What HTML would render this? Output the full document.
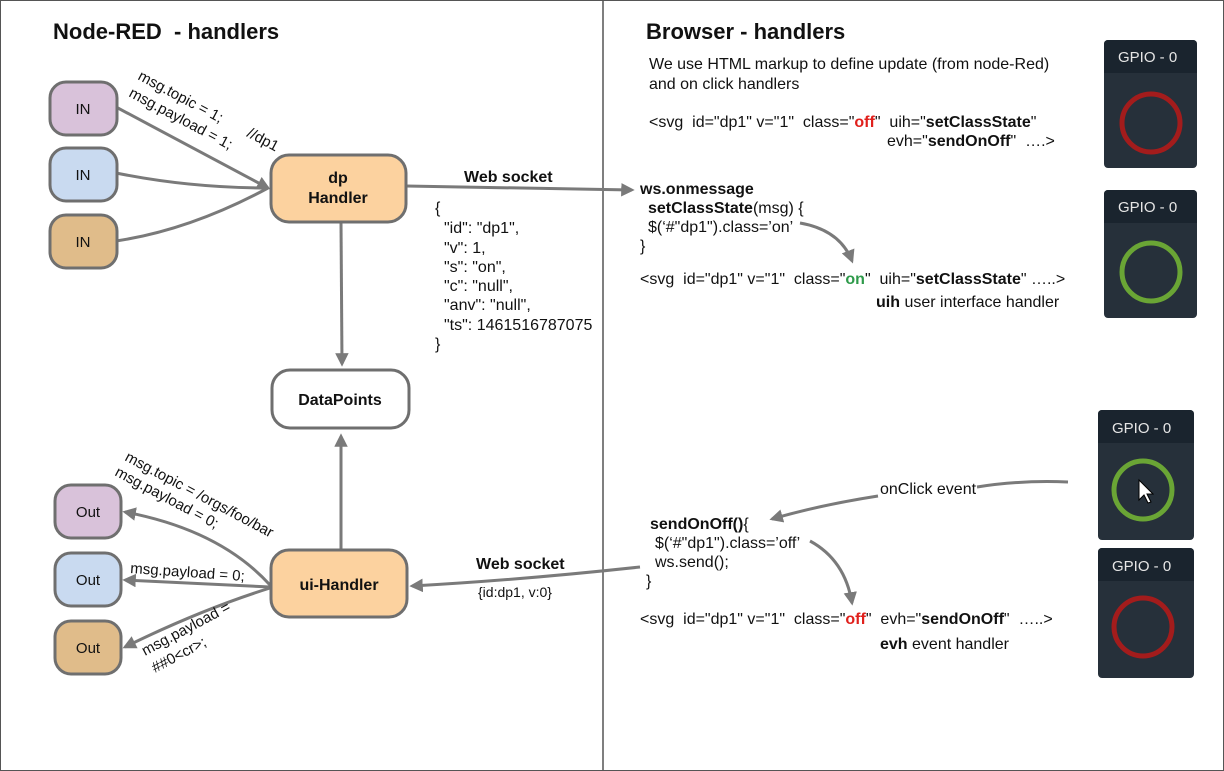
<!DOCTYPE html>
<html><head><style>body{margin:0;background:#fff}svg{display:block}text{font-family:"Liberation Sans",Arial,sans-serif;fill:#111;white-space:pre}</style></head>
<body>
<svg width="1224" height="771" viewBox="0 0 1224 771" xmlns="http://www.w3.org/2000/svg">
<defs>
<marker id="a" viewBox="0 0 10 10" refX="8" refY="5" markerWidth="4.5" markerHeight="4.5" orient="auto-start-reverse"><path d="M0,0 L10,5 L0,10 z" fill="#7a7a7a"/></marker>
</defs>
<rect x="0.5" y="0.5" width="1223" height="770" fill="#fff" stroke="#555"/>
<line x1="603" y1="0" x2="603" y2="771" stroke="#555" stroke-width="1.5"/>
<text x="53" y="39" font-size="22" font-weight="bold">Node-RED  - handlers</text>
<text x="646" y="39" font-size="22" font-weight="bold">Browser - handlers</text>

<g stroke="#7a7a7a" stroke-width="3" fill="none">
<path d="M116,107 L268,188" marker-end="url(#a)"/>
<path d="M116,173 Q190,188 268,188"/>
<path d="M116,241 Q190,230 268,188"/>
<path d="M406,186 L632,190" marker-end="url(#a)"/>
<path d="M341,222 L342,364" marker-end="url(#a)"/>
<path d="M341,550 L341,436" marker-end="url(#a)"/>
<path d="M270,585 Q220,530 125,512" marker-end="url(#a)"/>
<path d="M270,587 L125,580" marker-end="url(#a)"/>
<path d="M270,588 Q200,610 125,647" marker-end="url(#a)"/>
<path d="M640,567 Q520,580 412,586" marker-end="url(#a)"/>
<path d="M800,223 Q840,230 852,261" marker-end="url(#a)"/>
<path d="M810,541 Q845,560 852,603" marker-end="url(#a)"/>
<path d="M1068,482 Q1020,480 977,487"/>
<path d="M878,496 Q820,505 772,519" marker-end="url(#a)"/>
</g>

<g stroke="#6f6f6f" stroke-width="3">
<rect x="50" y="82" width="67" height="53" rx="16" fill="#d9c2da"/>
<rect x="50" y="148" width="67" height="53" rx="16" fill="#c9daf0"/>
<rect x="50" y="215" width="67" height="53" rx="16" fill="#e0bc8a"/>
<rect x="271" y="155" width="135" height="67" rx="18" fill="#fcd29f"/>
<rect x="272" y="370" width="137" height="58" rx="18" fill="#fff"/>
<rect x="271" y="550" width="136" height="67" rx="18" fill="#fcd29f"/>
<rect x="55" y="485" width="66" height="53" rx="16" fill="#d9c2da"/>
<rect x="55" y="553" width="66" height="53" rx="16" fill="#c9daf0"/>
<rect x="55" y="621" width="66" height="53" rx="16" fill="#e0bc8a"/>
</g>
<g font-size="15" text-anchor="middle">
<text x="83" y="114">IN</text><text x="83" y="180">IN</text><text x="83" y="247">IN</text>
<text x="88" y="517">Out</text><text x="88" y="585">Out</text><text x="88" y="653">Out</text>
<text x="338" y="183" font-weight="bold" font-size="16">dp</text><text x="338" y="203" font-weight="bold" font-size="16">Handler</text>
<text x="340" y="405" font-weight="bold" font-size="16">DataPoints</text>
<text x="339" y="590" font-weight="bold" font-size="16">ui-Handler</text>
</g>

<g font-size="16">
<text transform="translate(137,79) rotate(28)" font-size="15">msg.topic = 1;</text>
<text transform="translate(128,96) rotate(28)" font-size="15">msg.payload = 1;</text>
<text transform="translate(246,136) rotate(28)" font-size="15">//dp1</text>
<text transform="translate(124,460) rotate(28)" font-size="15">msg.topic = /orgs/foo/bar</text>
<text transform="translate(114,475) rotate(28)" font-size="15">msg.payload = 0;</text>
<text transform="translate(130,573) rotate(4)" font-size="15">msg.payload = 0;</text>
<text transform="translate(145,656) rotate(-28)" font-size="15">msg.payload =</text>
<text transform="translate(155,673) rotate(-28)" font-size="15">##0&lt;cr&gt;;</text>
<text x="464" y="182" font-weight="bold">Web socket</text>
<text x="476" y="569" font-weight="bold">Web socket</text>
<text x="478" y="597" font-size="14">{id:dp1, v:0}</text>
<text x="435" y="213">{</text>
<text x="444" y="233">"id": "dp1",</text>
<text x="444" y="253">"v": 1,</text>
<text x="444" y="272">"s": "on",</text>
<text x="444" y="291">"c": "null",</text>
<text x="444" y="310">"anv": "null",</text>
<text x="444" y="330">"ts": 1461516787075</text>
<text x="435" y="349">}</text>

<text x="649" y="69">We use HTML markup to define update (from node-Red)</text>
<text x="649" y="89">and on click handlers</text>
<text x="649" y="127">&lt;svg  id="dp1" v="1"  class="<tspan fill="#e0201c" font-weight="bold">off</tspan>"  uih="<tspan font-weight="bold">setClassState</tspan>"</text>
<text x="887" y="146">evh="<tspan font-weight="bold">sendOnOff</tspan>"  ….&gt;</text>
<text x="640" y="194" font-weight="bold">ws.onmessage</text>
<text x="648" y="213"><tspan font-weight="bold">setClassState</tspan>(msg) {</text>
<text x="648" y="232">$(‘#"dp1").class=’on’</text>
<text x="640" y="251">}</text>
<text x="640" y="284">&lt;svg  id="dp1" v="1"  class="<tspan fill="#2e9a4a" font-weight="bold">on</tspan>"  uih="<tspan font-weight="bold">setClassState</tspan>" …..&gt;</text>
<text x="876" y="307"><tspan font-weight="bold">uih</tspan> user interface handler</text>
<text x="880" y="494">onClick event</text>
<text x="650" y="529"><tspan font-weight="bold">sendOnOff()</tspan>{</text>
<text x="655" y="548">$(‘#"dp1").class=’off’</text>
<text x="655" y="567">ws.send();</text>
<text x="646" y="586">}</text>
<text x="640" y="624">&lt;svg  id="dp1" v="1"  class="<tspan fill="#e0201c" font-weight="bold">off</tspan>"  evh="<tspan font-weight="bold">sendOnOff</tspan>"  …..&gt;</text>
<text x="880" y="649"><tspan font-weight="bold">evh</tspan> event handler</text>
</g>

<g>
<rect x="1104" y="40" width="93" height="128" rx="4" fill="#26303a"/>
<path d="M1104,73 V44 a4,4 0 0 1 4,-4 H1193 a4,4 0 0 1 4,4 V73 z" fill="#1a242e"/>
<text x="1118" y="62" font-size="15" style="fill:#e6e6e6">GPIO - 0</text>
<circle cx="1151" cy="123" r="29" fill="none" stroke="#a31c1c" stroke-width="5"/>
<rect x="1104" y="190" width="93" height="128" rx="4" fill="#26303a"/>
<path d="M1104,223 V194 a4,4 0 0 1 4,-4 H1193 a4,4 0 0 1 4,4 V223 z" fill="#1a242e"/>
<text x="1118" y="212" font-size="15" style="fill:#e6e6e6">GPIO - 0</text>
<circle cx="1151" cy="272" r="29" fill="none" stroke="#6aa535" stroke-width="5"/>
<rect x="1098" y="410" width="96" height="130" rx="4" fill="#26303a"/>
<path d="M1098,443 V414 a4,4 0 0 1 4,-4 H1190 a4,4 0 0 1 4,4 V443 z" fill="#1a242e"/>
<text x="1112" y="433" font-size="15" style="fill:#e6e6e6">GPIO - 0</text>
<circle cx="1143" cy="490" r="29" fill="none" stroke="#6aa535" stroke-width="5"/>
<path d="M1139,480 L1139,500 L1144,495 L1148,503 L1151,502 L1147,494 L1153,494 z" fill="#fff" stroke="#000" stroke-width="1"/>
<rect x="1098" y="548" width="96" height="130" rx="4" fill="#26303a"/>
<path d="M1098,581 V552 a4,4 0 0 1 4,-4 H1190 a4,4 0 0 1 4,4 V581 z" fill="#1a242e"/>
<text x="1112" y="571" font-size="15" style="fill:#e6e6e6">GPIO - 0</text>
<circle cx="1143" cy="627" r="29" fill="none" stroke="#a31c1c" stroke-width="5"/>
</g>
</svg>
</body></html>
